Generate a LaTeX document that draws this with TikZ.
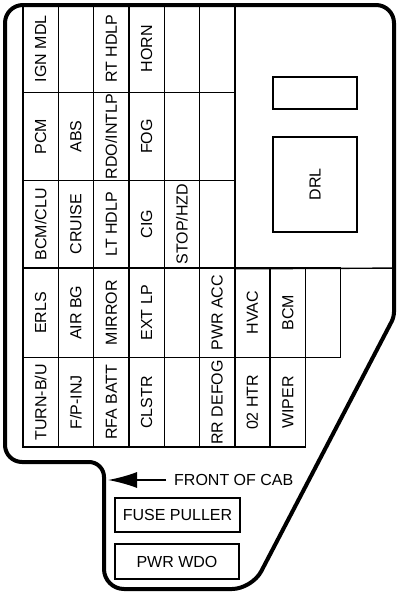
\documentclass[tikz,border=0pt]{standalone}
\usepackage{fontspec}
\setmainfont{Liberation Sans}
\usetikzlibrary{arrows.meta}
\begin{document}
\begin{tikzpicture}[x=1pt,y=-1pt,
  cell/.style={draw, line width=1.4pt, rotate=90, minimum height=35.3pt, inner sep=0pt, font=\fontsize{16}{16}\selectfont},
  topcell/.style={cell, minimum width=87.7pt},
  lowcell/.style={cell, minimum width=89.5pt},
  box/.style={draw, line width=1.4pt, inner sep=0pt},
  lbl/.style={font=\fontsize{16}{16}\selectfont}]
\useasboundingbox (0,0) rectangle (400,595);
% outer outline
\draw[line width=4pt, rounded corners=18pt]
  (5,200) -- (5,5) -- (394,5) [rounded corners=5pt] -- (394,317)
  [rounded corners=20pt] -- (252,589) -- (104,589)
  [rounded corners=15pt] -- (104,462) [rounded corners=17pt] -- (5,462) -- cycle;
% top block rows
\node[topcell] (a1) at (40.65,48.85) {IGN MDL};
\node[topcell] (b1) at (75.95,48.85) {};
\node[topcell] (c1) at (111.25,48.85) {RT HDLP};
\node[topcell] (d1) at (146.55,48.85) {HORN};
\node[topcell] (e1) at (181.85,48.85) {};
\node[topcell] (f1) at (217.15,48.85) {};
\node[topcell] (a2) at (40.65,136.55) {PCM};
\node[topcell] (b2) at (75.95,136.55) {ABS};
\node[topcell] (c2) at (111.25,136.55) {RDO/INTLP};
\node[topcell] (d2) at (146.55,136.55) {FOG};
\node[topcell] (e2) at (181.85,136.55) {};
\node[topcell] (f2) at (217.15,136.55) {};
\node[topcell] (a3) at (40.65,224.25) {BCM/CLU};
\node[topcell] (b3) at (75.95,224.25) {CRUISE};
\node[topcell] (c3) at (111.25,224.25) {LT HDLP};
\node[topcell] (d3) at (146.55,224.25) {CIG};
\node[topcell] (e3) at (181.85,224.25) {STOP/HZD};
\node[topcell] (f3) at (217.15,224.25) {};
% lower block rows
\node[lowcell] (a4) at (40.65,312.85) {ERLS};
\node[lowcell] (b4) at (75.95,312.85) {AIR BG};
\node[lowcell] (c4) at (111.25,312.85) {MIRROR};
\node[lowcell] (d4) at (146.55,312.85) {EXT LP};
\node[lowcell] (e4) at (181.85,312.85) {};
\node[lowcell] (f4) at (217.15,312.85) {PWR ACC};
\node[lowcell] (g4) at (252.45,312.85) {HVAC};
\node[lowcell] (h4) at (287.75,312.85) {BCM};
\node[lowcell] (i4) at (323.05,312.85) {};
\node[lowcell] (a5) at (40.65,402.35) {TURN-B/U};
\node[lowcell] (b5) at (75.95,402.35) {F/P-INJ};
\node[lowcell] (c5) at (111.25,402.35) {RFA BATT};
\node[lowcell] (d5) at (146.55,402.35) {CLSTR};
\node[lowcell] (e5) at (181.85,402.35) {};
\node[lowcell] (f5) at (217.15,402.35) {RR DEFOG};
\node[lowcell] (g5) at (252.45,402.35) {02 HTR};
\node[lowcell] (h5) at (287.75,402.35) {WIPER};
% divider to right edge
\coordinate (divR) at (394,268.1);
\draw[line width=1.4pt] (f3.west) ++(17.65,0) coordinate (divL) -- (divR);
% right-side boxes
\node[box, minimum width=84pt, minimum height=32pt] (spare) at (315,93) {};
\node[box, minimum width=84pt, minimum height=95pt] (drl) at (315,184.5) {};
\node[lbl, rotate=90] (drltxt) at (drl.center) {DRL};
% front of car
\node[lbl, anchor=west, inner sep=0pt] (front) at (174,480) {FRONT OF CAB};
\coordinate (tip) at (108,480);
\draw[line width=1.4pt, -{Latex[length=29pt,width=16pt]}] (front.west) ++(-8,0) -- (tip);
% lower boxes
\node[box, lbl, minimum width=125pt, minimum height=34pt] (puller) at (177.5,515) {FUSE PULLER};
\node[box, lbl, minimum width=124pt, minimum height=35pt] (pwr) at (177,561.5) {PWR WDO};
\end{tikzpicture}
\end{document}
